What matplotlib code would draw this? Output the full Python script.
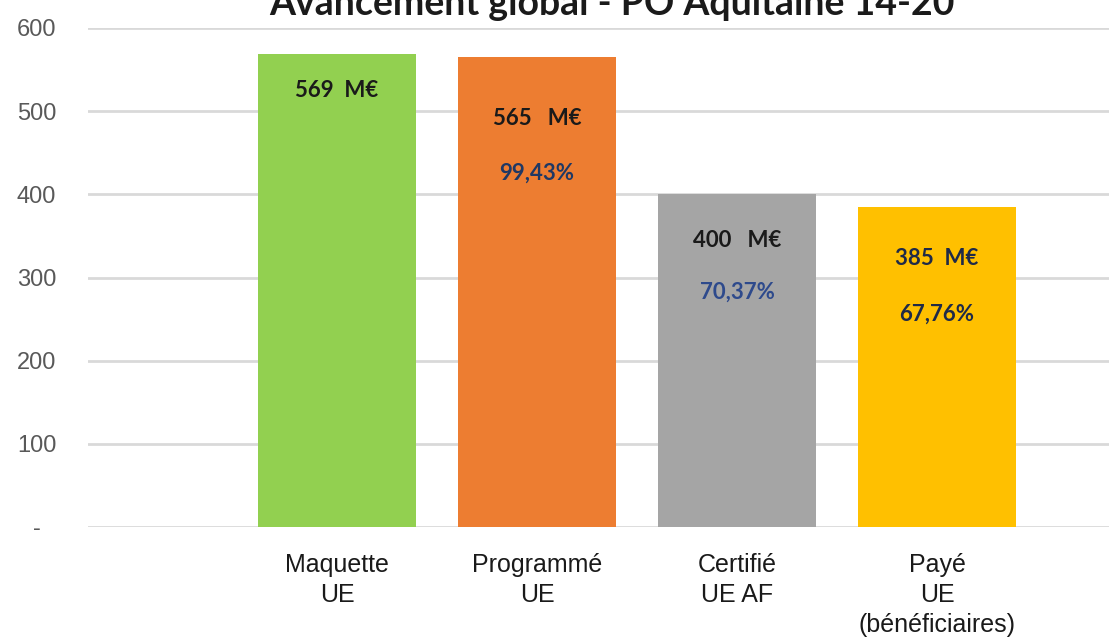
import matplotlib
matplotlib.use("Agg")
import matplotlib.pyplot as plt
from matplotlib.ticker import FuncFormatter
from matplotlib import font_manager

# ---- data ----
categories = ["Maquette\nUE", "Programmé\nUE", "Certifié\nUE AF", "Payé\nUE\n(bénéficiaires)"]
values = [569, 565, 400, 385]
amount_labels = ["569  M€", "565   M€", "400   M€", "385  M€"]
percent_labels = ["", "99,43%", "70,37%", "67,76%"]
yticks = [0, 100, 200, 300, 400, 500, 600]
title = "Avancement global - PO Aquitaine 14-20"

# ---- style ----
bar_colors = ["#92D050", "#ED7D31", "#A5A5A5", "#FFC000"]
amount_colors = ["#1a1a1a", "#1a1a1a", "#1a1a1a", "#1F2A48"]
percent_colors = ["#1F3864", "#1F3864", "#2E4A8C", "#1F2A48"]
amount_offsets_px = [37, 61, 46, 52]
percent_offsets_px = [0, 116, 98, 107]

names = {f.name for f in font_manager.fontManager.ttflist}
narrow = "Liberation Sans Narrow" if "Liberation Sans Narrow" in names else "Liberation Sans"
calib = "Lato" if "Lato" in names else "DejaVu Sans"

W, H, DPI = 1109, 643, 100
fig = plt.figure(figsize=(W / DPI, H / DPI), dpi=DPI)
ax = fig.add_axes([88 / W, 1 - 527 / H, 1 - 88 / W, (527 - 28) / H])

x = list(range(len(values)))
ax.bar(x, values, width=0.79, color=bar_colors, zorder=2)
ax.set_xlim(-1.245, 3.86)
ax.set_ylim(0, 600)

ax.set_yticks(yticks)
ax.yaxis.set_major_formatter(FuncFormatter(lambda v, p: "-" if v == 0 else f"{int(v)}"))
ax.grid(axis="y", color="#D9D9D9", linewidth=2, zorder=0)
ax.set_axisbelow(True)
for s in ax.spines.values():
    s.set_visible(False)
ax.tick_params(axis="y", length=0, pad=37, labelsize=17, labelcolor="#595959")
for lbl in ax.get_yticklabels():
    lbl.set_fontfamily(narrow)
    lbl.set_horizontalalignment("center")

ax.set_xticks(x)
ax.set_xticklabels(categories, fontsize=18, fontfamily=narrow, color="#1a1a1a",
                   linespacing=1.3, va="top")
ax.tick_params(axis="x", length=0, pad=19)

for i, v in enumerate(values):
    ax.annotate(amount_labels[i], xy=(i, v), xytext=(0, -amount_offsets_px[i] * 0.72),
                textcoords="offset points", ha="center", va="center",
                fontsize=16, fontweight="bold", fontfamily=calib, color=amount_colors[i])
    if percent_labels[i]:
        ax.annotate(percent_labels[i], xy=(i, v), xytext=(0, -percent_offsets_px[i] * 0.72),
                    textcoords="offset points", ha="center", va="center",
                    fontsize=16, fontweight="bold", fontfamily=calib, color=percent_colors[i])

fig.text(612 / W, 1 - 15 / H, title, ha="center", va="baseline",
         fontsize=27, fontweight="bold", fontfamily=calib, color="#1a1a1a")

fig.savefig("out.png", dpi=DPI)
